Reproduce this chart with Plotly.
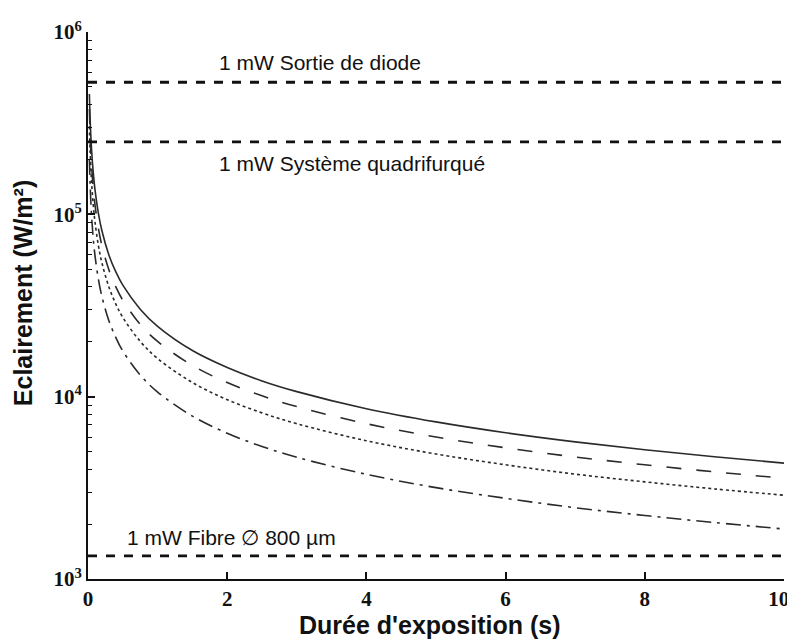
import plotly.graph_objects as go

# Exposure time (s)
t = [0.02, 0.03, 0.05, 0.075, 0.1, 0.15, 0.2, 0.3, 0.4, 0.5, 0.75, 1, 1.5, 2, 2.5, 3, 4, 5, 6, 7, 8, 9, 10]

# Irradiance curves (W/m²)
solid = [457000, 337000, 230000, 170000, 137000, 101000, 81300, 59900, 48300, 40900, 30200, 24300,
         17900, 14450, 12200, 10660, 8590, 7270, 6340, 5650, 5110, 4680, 4320]
longdash = [378000, 279000, 190000, 140300, 113000, 83400, 67200, 49600, 40000, 33800, 24900, 20100,
            14830, 11950, 10110, 8820, 7110, 6010, 5240, 4670, 4230, 3870, 3570]
dotted = [304600, 224700, 153300, 113100, 91100, 67200, 54200, 40000, 32200, 27200, 20100, 16200,
          11960, 9630, 8150, 7110, 5730, 4850, 4230, 3760, 3410, 3120, 2880]
dashdot = [199300, 147000, 100300, 74000, 59600, 44000, 35400, 26100, 21100, 17800, 13150, 10600,
           7820, 6300, 5330, 4650, 3750, 3170, 2770, 2460, 2230, 2040, 1880]

# Reference levels
levels = [530000, 250000, 1340]
level_labels = ["1 mW Sortie de diode", "1 mW Système quadrifurqué", "1 mW Fibre ∅ 800 µm"]

x_ticks = [0, 2, 4, 6, 8, 10]
x_ticktext = ["<b>0</b>", "<b>2</b>", "<b>4</b>", "<b>6</b>", "<b>8</b>", "<b>10</b>\u00a0\u00a0"]
y_ticks = [1e3, 1e4, 1e5, 1e6]
y_ticktext = ["<b>10<sup>3</sup></b>", "<b>10<sup>4</sup></b>", "<b>10<sup>5</sup></b>", "<b>10<sup>6</sup></b>"]
y_minor = [m * 10 ** e for e in (3, 4, 5) for m in range(2, 10)]

x_title = "Durée d'exposition (s)"
y_title = "Eclairement (W/m²)"

fig = go.Figure()

curve_col = "#2a2a2a"
for ys, dash in [(solid, "solid"), (longdash, "longdash"), (dotted, "dot"), (dashdot, "longdashdot")]:
    fig.add_trace(go.Scatter(x=t, y=ys, mode="lines",
                             line=dict(color=curve_col, width=1.6, dash=dash, shape="spline"),
                             showlegend=False, hoverinfo="skip"))

for lv in levels:
    fig.add_trace(go.Scatter(x=[0, 10], y=[lv, lv], mode="lines",
                             line=dict(color="#111111", width=2.8, dash="dash"),
                             showlegend=False, hoverinfo="skip"))

label_font = dict(family="Liberation Sans, Arial, sans-serif", size=21, color="#111111")
title_font = dict(family="Liberation Sans, Arial, sans-serif", size=25, color="#111")
tick_font = dict(family="Liberation Serif, Times New Roman, serif", size=21, color="#111")

annots = []
ann_y = [5.835, 5.281, 3.230]
ann_x = [1.85, 1.85, 0.53]
for lab, ax_, ay_ in zip(level_labels, ann_x, ann_y):
    annots.append(dict(x=ax_, y=ay_, xref="x", yref="y", text=lab, showarrow=False,
                       xanchor="left", yanchor="middle", font=label_font))

annots.append(dict(x=0.491, y=-0.084, xref="paper", yref="paper", text="<b>%s</b>" % x_title,
                   showarrow=False, xanchor="center", yanchor="middle", font=title_font))
annots.append(dict(x=-0.093, y=0.523, xref="paper", yref="paper", text="<b>%s</b>" % y_title,
                   showarrow=False, xanchor="center", yanchor="middle", textangle=-90, font=title_font))

fig.update_layout(
    width=787, height=634,
    margin=dict(l=80, r=11, t=24, b=63),
    paper_bgcolor="white", plot_bgcolor="white",
    annotations=annots,
    xaxis=dict(range=[0, 10], tickvals=x_ticks, ticktext=x_ticktext,
               ticks="inside", ticklen=7, tickwidth=1.5, tickcolor="#111",
               showline=True, linecolor="#111", linewidth=2, mirror=False,
               showgrid=False, zeroline=False, automargin=False,
               ticklabeloverflow="allow",
               tickfont=tick_font),
    yaxis=dict(type="log", range=[3, 6], tickvals=y_ticks, ticktext=y_ticktext,
               ticks="inside", ticklen=7, tickwidth=1.5, tickcolor="#111",
               minor=dict(tickvals=y_minor, ticks="inside", ticklen=4, tickwidth=1.2,
                          tickcolor="#111", showgrid=False),
               showline=True, linecolor="#111", linewidth=2, mirror=False,
               showgrid=False, zeroline=False, automargin=False,
               ticklabeloverflow="allow",
               tickfont=tick_font),
)

fig.write_html("out.html")
